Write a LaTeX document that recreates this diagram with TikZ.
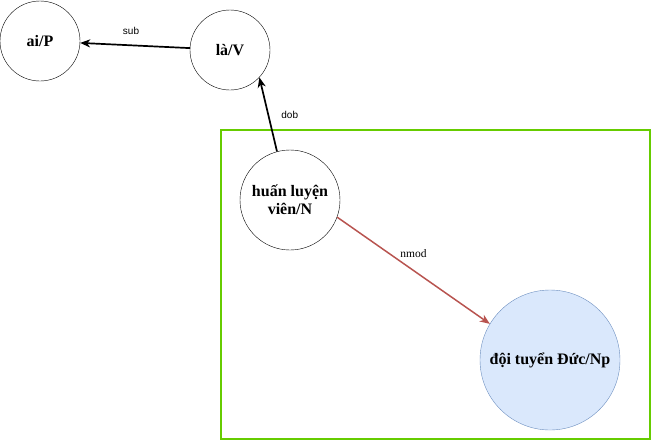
\documentclass[tikz,border=0pt]{standalone}
\usepackage{fontspec}
\setmainfont{Liberation Serif}
\setsansfont{Liberation Sans}
\usetikzlibrary{arrows.meta}
\definecolor{boxgreen}{HTML}{66CC00}
\definecolor{edgered}{HTML}{B85450}
\definecolor{nodeblue}{HTML}{DAE8FC}
\definecolor{borderblue}{HTML}{6C8EBF}
\begin{document}
\begin{tikzpicture}[
    x=1pt, y=-1pt,
    word/.style={circle, draw, inner sep=0pt, align=center, font=\fontsize{16}{18}\selectfont\bfseries},
    rel/.style={-{Stealth[length=10pt, width=8pt, inset=3pt]}, line width=1.7pt},
    tag/.style={font=\sffamily\fontsize{10}{12}\selectfont}
]
\useasboundingbox (0,0) rectangle (652,442);

% green frame round the noun phrase
\draw[boxgreen, line width=2.4pt] (221,130) rectangle (650,439);

\node[word, minimum size=80pt] (ai) at (40,41) {ai/P};
\node[word, minimum size=80pt] (la) at (230,50) {là/V};
\node[word, minimum size=100pt] (huan) at (290,200) {huấn luyện\\viên/N};
\node[word, minimum size=140pt, fill=nodeblue, draw=borderblue] (doi) at (550,360) {đội tuyển Đức/Np};

\draw[rel] (la) -- node[tag, above=7pt, xshift=-4pt] {sub} (ai);
\draw[rel] (huan.105) -- node[tag, right=9pt] {dob} (la.-43);
\draw[rel, edgered, line width=1.5pt] (huan.-20) -- node[above=9pt, font=\fontsize{11.5}{13}\selectfont, text=black] {nmod} (doi.149);

\end{tikzpicture}
\end{document}
